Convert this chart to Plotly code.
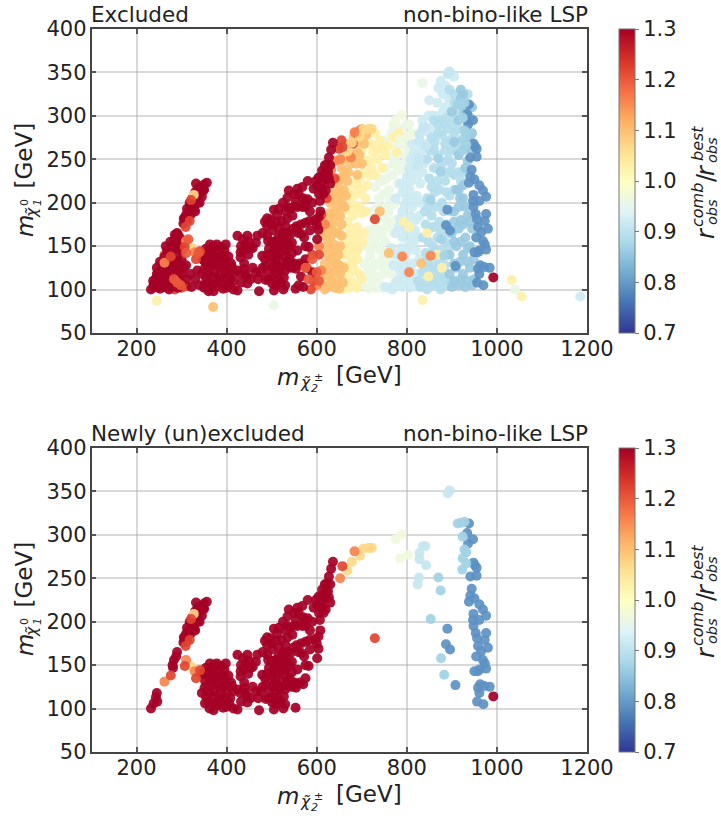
import plotly.graph_objects as go

# ---------- points shared by both panels (newly (un)excluded) : (m_chargino2, m_neutralino1) ----------
new_r130 = [(232,100),(238,106),(246,108),(243,113),(245,118),(280,150),(283,156),(290,165),
 (304,176),(307,181),(310,186),(316,190),(322,195),(330,198),(340,200),(318,200),(325,206),(330,212),
 (336,216),(342,218),(350,221),(356,223),(348,214),(345,207),(336,205),(328,192),
 (281,147),(288,160),(312,178),(312,193),(305,182),(320,186),(330,190),(335,200),(350,215),(340,212),(332,222),
 (363,152),(387,149),(354,147),(369,143),(380,143),(395,145),(404,138),(361,137),(376,137),(391,135),
 (351,124),(365,131),(380,129),(395,126),(354,114),(369,106),(371,98),(387,118),(406,106),(392,101),
 (375,114),(412,126),(424,122),(439,124),(424,99),(446,107),(465,120),(472,98),(487,111),(505,99),
 (526,100),(553,101),(424,162),(446,162),(468,162),(442,152),(465,154),(431,143),(431,137),(453,147),
 (439,130),(479,139),(494,147),(488,128),(500,137),(501,126),(516,141),(531,145),(557,145),(508,133),
 (523,131),(538,126),(516,122),(527,114),(501,107),(493,112),(508,120),(575,135),(554,124),(563,130),
 (582,149),(490,173),(497,181),(505,192),(516,193),(522,179),(502,168),(516,170),(531,173),(542,164),
 (490,162),(527,160),(509,156),(545,154),(534,154),(538,214),(535,206),(557,216),(568,218),(580,225),
 (554,202),(542,193),(557,195),(568,195),(546,185),(576,202),(580,204),(555,173),(575,177),(566,164),
 (584,179),(604,183),(604,169),(601,158),(593,216),(607,202),(601,219),(604,229),(612,237),(623,244),
 (627,252),(632,261),(636,269),(620,227),(620,214),(627,228),(610,223),(992,114),
 (345,140),(352,132),(358,145),(372,150),(378,152),(398,152),(410,130),(400,128),(388,138),(372,128),
 (358,126),(345,118),(362,118),(372,120),(384,112),(398,112),(360,108),(378,104),(386,108),(400,118),
 (415,120),(430,118),(445,115),(432,108),(415,100),(362,100),(352,106),(368,135),(352,140),(364,144),
 (385,125),(395,138),(408,112),(400,102),(432,150),(436,158),(450,155),(458,148),(448,140),(438,145),
 (442,118),(453,112),(458,125),(470,112),(476,120),(480,125),(485,135),(490,140),(505,145),(510,150),
 (520,150),(530,138),(540,135),(545,142),(550,130),(510,128),(520,125),(530,122),(535,132),(515,112),
 (510,105),(520,107),(530,105),(505,112),(495,120),(510,140),(525,145),(540,150),(525,155),(500,155),
 (492,156),(515,160),(500,175),(510,178),(490,182),(480,165),(485,178),(512,186),(535,182),(530,190),
 (525,165),(535,165),(520,158),(548,170),(560,165),(572,160),(565,175),(585,168),(600,175),(608,190),
 (596,180),(575,195),(585,190),(590,200),(570,205),(560,210),(550,210),(548,195),(535,195),(525,200),
 (598,225),(612,216),(615,210),(605,210),(612,230),(625,235),(618,243),(630,243),(630,222),(620,235),
 (575,150),(570,128),(545,125),(555,128)]
new_r122 = [(276,138),(307,149),(332,135),(341,144),(309,172),(318,179),(321,203),(657,264),(729,181)]
new_r116 = [(262,131),(310,156),(329,143),(652,250),(684,281)]
new_r107 = [(323,148),(327,209),(668,259),(678,269),(696,276),(703,284),(715,285),(722,285)]
new_r097 = [(785,273),(775,295),(789,301),(803,277)]
new_r091 = [(891,348),(895,351),(836,287),(841,287),(828,279),(828,272),(843,265),(827,251),(824,243)]
new_r087 = [(913,313),(921,314),(928,315),(924,298),(928,283),(924,273),(932,280),(923,260),(932,267),
 (870,251),(875,236),(853,203),(876,158),(883,139)]
new_r079 = [(938,313),(934,302),(947,295),(936,290),(948,268),(955,262),(941,252),(955,253),(951,265),
 (944,238),(941,230),(950,227),(938,223),(961,220),(969,214),(976,207),(948,209),(961,202),(947,202),
 (948,195),(953,187),(976,187),(956,181),(973,179),(958,172),(980,170),(965,166),(954,160),(969,156),
 (973,152),(976,146),(961,145),(950,143),(958,143),(963,128),(958,124),(972,126),(984,125),(961,118),
 (956,108),(970,105),(890,192),(887,174),(896,168),(908,127)]

# ---------- additional points only in the upper panel ----------
top_r130 = [(240,103),(252,101),(262,103),(272,100),(250,112),(262,112),(275,110),(285,105),(245,125),
 (255,122),(268,120),(280,118),(292,112),(300,108),(252,132),(262,138),(272,128),(285,130),(295,125),
 (268,145),(278,142),(290,140),(300,135),(310,128),(285,163),(296,160),(300,150),(292,150),(305,125),
 (320,118),(330,112),(340,105),(350,102),(335,122),(348,134),(310,112),(322,103),(360,98),(415,110),
 (404,117),(565,115),(570,103),(590,120),(560,105),(237,110),(245,103),(258,107),(265,150),(275,155),
 (285,150),(258,130),(248,120),(252,118),(260,125),(268,132),(280,125),(290,133),(298,120),(275,135),
 (282,148),(295,148),(292,163),(300,145),(270,112),(260,118),(275,103),(292,102)]
top_r122 = [(268,106),(285,100),(300,102),(312,104),(290,120),(302,118),(578,125),(590,140),(593,110),
 (587,100),(610,186),(622,205),(640,228),(650,262),(655,272),(688,280),(680,268),(605,140)]
top_r116 = [(272,115),(284,112),(298,128),(262,140),(610,122),(600,105),(605,150),(618,175),(632,238),
 (640,248),(695,283),(676,252),(805,120),(853,139),(790,138)]
top_r110 = [(295,110),(615,105),(625,103),(640,102),(650,101),(612,115),(628,115),(640,120),(652,118),
 (618,130),(632,135),(645,130),(620,148),(630,160),(640,145),(652,150),(612,162),(622,170),(635,175),
 (648,165),(655,175),(615,178),(628,188),(640,190),(652,185),(630,200),(645,205),(655,200),(640,215),
 (650,225),(660,215),(655,240),(662,235),(668,225),(670,255),(675,245),(690,258),(700,285),(710,278),
 (760,142),(370,80),(740,190),(832,130),(690,232),(700,245),
 (618,100),(632,110),(644,108),(658,108),(622,122),(636,125),(650,128),(660,125),(625,140),(638,152),
 (648,140),(625,155),(642,165),(632,168),(655,162),(620,165),(610,172),(625,182),(638,182),(648,195),
 (662,195),(635,208),(652,212),(665,208),(645,222),(658,230),(670,235),(660,250),(680,255),(672,268),
 (682,275),(692,270),(700,275),(688,245),(695,255),(705,268)]
top_r103 = [(645,103),(660,101),(672,102),(660,112),(672,118),(665,128),(678,135),(660,140),(672,150),
 (660,160),(675,165),(668,178),(680,185),(665,192),(678,200),(688,210),(672,212),(682,222),(695,228),
 (705,235),(715,248),(700,260),(725,258),(735,250),(745,262),(730,280),(740,272),(712,268),(722,240),
 (690,172),(700,188),(708,205),(690,145),(702,155),(685,122),(700,112),(245,87),(1033,111),(1055,92),
 (835,88),(793,178),(805,172),(848,115),(845,165),(878,125),(868,140),
 (665,108),(680,108),(690,102),(695,118),(680,128),(690,135),(668,140),(680,145),(695,150),(665,150),
 (680,155),(690,162),(705,165),(672,172),(685,195),(695,195),(708,190),(690,220),(700,215),(712,220),
 (718,232),(728,232),(708,248),(720,268),(735,262),(745,240),(758,265),(752,255),(770,275),(782,280),(778,258)]
top_r096 = [(505,82),(700,105),(715,101),(730,102),(708,115),(722,120),(738,108),(705,130),(718,138),
 (735,128),(712,150),(728,155),(742,145),(715,168),(730,172),(745,162),(722,190),(738,205),(752,195),
 (730,218),(745,225),(760,215),(752,240),(768,232),(760,255),(775,248),(750,272),(765,280),(780,265),
 (795,255),(785,285),(770,290),(800,290),(790,240),(780,222),(755,180),(770,165),(750,125),(765,118),
 (745,102),(880,120),(1040,100),(900,295),(835,338),
 (722,110),(735,115),(748,118),(715,125),(728,130),(745,135),(755,140),(720,145),(738,150),(752,155),
 (762,130),(722,160),(738,165),(750,170),(762,175),(775,180),(730,182),(745,185),(760,190),(772,198),
 (735,195),(748,210),(762,205),(738,228),(755,228),(770,245),(782,238),(795,245),(805,290),(795,275),
 (800,265),(810,280)]
top_r092 = [(760,102),(775,108),(790,103),(805,102),(818,104),(770,128),(785,122),(800,118),(815,112),
 (765,148),(780,140),(795,135),(812,130),(775,165),(790,160),(805,152),(820,145),(785,182),(802,175),
 (818,168),(795,198),(812,195),(828,185),(775,205),(790,212),(806,215),(822,208),(800,230),(815,235),
 (830,222),(808,250),(822,255),(838,245),(812,268),(827,268),(845,282),(848,300),(855,300),(850,318),
 (870,332),(1185,92),(892,350),(905,345),(880,325),(885,310),
 (752,103),(768,100),(782,112),(795,110),(810,108),(778,128),(792,125),(808,125),(822,118),(772,140),
 (788,148),(800,143),(815,155),(828,135),(782,172),(798,168),(812,160),(826,160),(790,190),(808,185),
 (820,180),(800,205),(815,205),(830,200),(785,222),(795,222),(810,225),(825,232),(835,235),(805,240),
 (820,245),(815,258),(830,258),(842,262),(830,280),(845,268),(855,285),(835,295),(862,300),(868,315),
 (875,340),(885,335),(880,305),(893,320)]
top_r089 = [(830,103),(845,100),(860,106),(875,100),(890,105),(835,120),(850,125),(865,118),(880,115),
 (842,142),(858,150),(872,135),(890,140),(835,160),(850,170),(868,160),(885,155),(840,190),(855,185),
 (872,178),(888,175),(845,205),(862,212),(878,200),(895,208),(850,228),(868,225),(885,225),(900,235),
 (845,250),(860,262),(878,245),(892,250),(905,232),(855,275),(870,280),(885,268),(900,260),(860,295),
 (875,295),(890,285),(905,280),(915,270),(915,235),(925,235),(920,225),(880,290),(895,330),(905,315),
 (825,110),(840,108),(855,112),(870,108),(885,112),(900,110),(843,132),(858,128),(872,125),(885,128),
 (848,155),(862,145),(878,145),(895,150),(842,175),(858,172),(875,168),(892,165),(848,195),(865,195),
 (882,190),(898,190),(855,218),(872,215),(888,212),(905,215),(860,240),(875,235),(890,235),(852,260),
 (868,255),(885,260),(900,245),(862,270),(878,278),(895,272),(908,262),(870,290),(890,298),(900,290),
 (915,285),(910,300),(920,308),(905,325),(925,318),(935,325)]
top_r086 = [(900,103),(915,105),(930,103),(945,105),(895,118),(910,125),(925,118),(940,125),(895,140),
 (910,150),(925,140),(940,150),(900,165),(915,170),(930,160),(945,170),(905,190),(920,180),(935,185),
 (910,215),(925,205),(915,195),(928,262),(940,275),(900,305),(915,295),(935,310),(925,325),(920,330),
 (945,310),(935,248),(915,255),(905,270),
 (905,110),(920,112),(935,110),(950,112),(905,130),(918,132),(935,132),(948,135),(905,155),(920,155),
 (935,148),(905,178),(925,175),(940,178),(918,205),(930,195),(945,185),(925,220),(915,215),(930,240),
 (940,262),(945,280),(940,298),(935,295),(928,305),(920,320)]
top_over_r120 = [(290,108),(283,112),(298,105),(310,142),(337,142),(315,158),(575,125),(582,112),(590,135),(600,120),(605,110)]

# ---------- axis and colour-bar values ----------
x_ticks = [200, 400, 600, 800, 1000, 1200]
y_ticks = [50, 100, 150, 200, 250, 300, 350, 400]
cb_ticks = [0.7, 0.8, 0.9, 1.0, 1.1, 1.2, 1.3]

new_groups = [(1.30,new_r130),(0.79,new_r079),(0.87,new_r087),(0.91,new_r091),(0.97,new_r097),(1.07,new_r107),(1.16,new_r116),(1.22,new_r122)]
top_groups = [(0.96,top_r096),(0.92,top_r092),(0.89,top_r089),(0.86,top_r086),(1.03,top_r103),(1.10,top_r110),(1.16,top_r116),(1.22,top_r122),(1.30,top_r130)]
top_over = [(1.20,top_over_r120)]

W, H = 721, 816
L, R = 91.5, 587
PANELS = [(29, 333), (448, 752)]
FONT = "DejaVu Sans"

def flatten(groups):
    xs, ys, cs = [], [], []
    for r, pts in groups:
        for a, b in pts:
            xs.append(a); ys.append(b); cs.append(r)
    return xs, ys, cs

fig = go.Figure()
datasets = [flatten(top_groups + new_groups + top_over), flatten(new_groups)]
for i, (xs, ys, cs) in enumerate(datasets):
    top, bot = PANELS[i]
    fig.add_trace(go.Scatter(
        x=xs, y=ys, mode="markers", xaxis=f"x{i+1}", yaxis=f"y{i+1}", showlegend=False,
        marker=dict(size=10, color=cs, cmin=0.7, cmax=1.3, colorscale="RdYlBu_r", opacity=0.92, line=dict(width=0),
            colorbar=dict(x=618.5/W, xanchor="left", xref="paper", y=1-(top+bot)/2/H, yanchor="middle", yref="paper",
                len=(bot-top)/H, lenmode="fraction", thickness=15.5, thicknessmode="pixels",
                tickvals=cb_ticks, ticktext=[f"{v:.1f}" for v in cb_ticks], ticks="outside", ticklen=4, tickwidth=1,
                tickcolor="#777", tickfont=dict(family=FONT, size=21, color="#222"),
                outlinewidth=1, outlinecolor="#777", ypad=0, xpad=0))))
    ax = dict(showgrid=True, gridcolor="rgba(170,170,170,0.45)", gridwidth=1.5, zeroline=False, showline=True,
              linecolor="#444", linewidth=1.5, mirror="ticks", ticks="inside", ticklen=5, tickwidth=1.5,
              tickcolor="#555", tickfont=dict(family=FONT, size=21, color="#222"))
    fig.update_layout({
        f"xaxis{i+1}": dict(ax, domain=[L/W, R/W], range=[100, 1200], tickvals=x_ticks, anchor=f"y{i+1}", ticklabelstandoff=-4),
        f"yaxis{i+1}": dict(ax, domain=[1-bot/H, 1-top/H], range=[50, 400], tickvals=y_ticks, anchor=f"x{i+1}", ticklabelstandoff=-1),
    })

anns = []
def T(text, px, py, size, angle=0, anchor="center"):
    anns.append(dict(text=text, x=px/W, y=1-py/H, xref="paper", yref="paper", xanchor=anchor, yanchor="middle",
                     showarrow=False, textangle=angle, font=dict(family=FONT, size=size, color="#222"),
                     borderpad=0, borderwidth=0))

for i, (top, bot) in enumerate(PANELS):
    # panel captions
    T(["Excluded", "Newly (un)excluded"][i], 91, top-15, 21.5, anchor="left")
    T("non-bino-like LSP", 588, top-15, 21.5, anchor="right")
    # x title
    yb = bot + 43
    T("<i>m</i>", 288, yb+1, 23)
    T("<i>χ̃</i>", 305, yb+7, 15.5)
    T("<i>2</i>", 314.5, yb+12, 11)
    T("±", 318.5, yb+1, 11)
    T("[GeV]", 369, yb-1, 23)
    # y title (rotated)
    mid = (top+bot)/2
    T("<i>m</i>", 25, mid+45, 23, -90)
    T("<i>χ̃</i>", 32, mid+32, 15.5, -90)
    T("<i>1</i>", 37, mid+22, 11, -90)
    T("0", 24, mid+22, 11, -90)
    T("[GeV]", 23, mid-25.5, 23, -90)
    # colour bar title (rotated)
    T("<i>r</i>", 706, mid+52, 24, -90)
    T("<i>comb</i>", 697, mid+24, 16, -90)
    T("<i>obs</i>", 712, mid+31, 14.5, -90)
    T("/", 706, mid-3, 24, -90)
    T("<i>r</i>", 706, mid-11, 24, -90)
    T("<i>best</i>", 697, mid-37, 16, -90)
    T("<i>obs</i>", 712, mid-31, 14.5, -90)

fig.update_layout(width=W, height=H, margin=dict(l=0, r=0, t=0, b=0, autoexpand=False), paper_bgcolor="white",
                  plot_bgcolor="white", annotations=anns, font=dict(family=FONT))
fig.write_html("out.html", post_script="document.body.style.margin='0';", config=dict(displayModeBar=False))
